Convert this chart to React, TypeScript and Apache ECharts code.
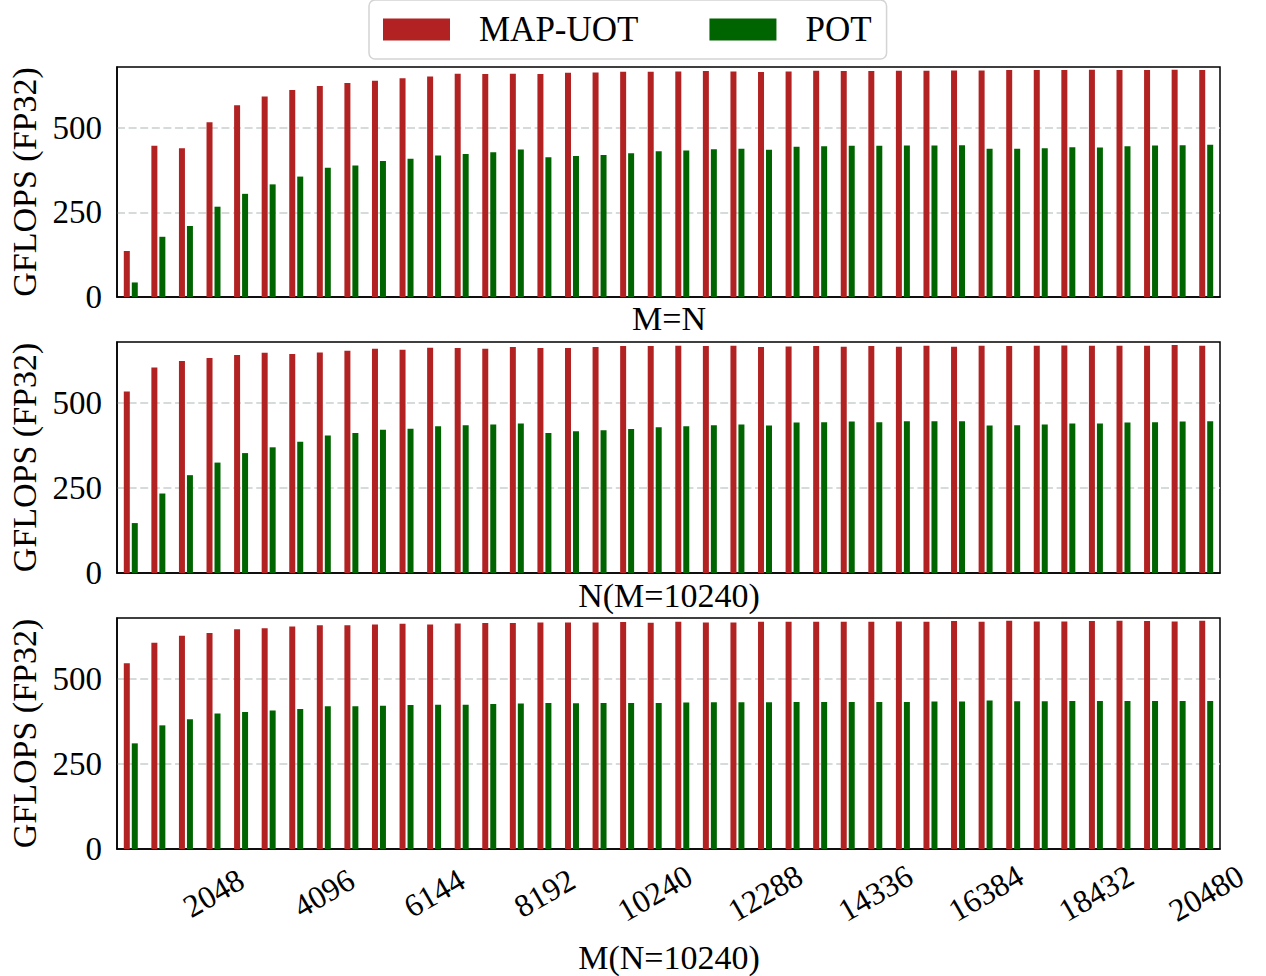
import React, { useEffect, useRef } from "react";
import * as echarts from "echarts";

const categories = [
  "512", "1024", "1536", "2048", "2560", "3072", "3584", "4096", "4608", "5120",
  "5632", "6144", "6656", "7168", "7680", "8192", "8704", "9216", "9728", "10240",
  "10752", "11264", "11776", "12288", "12800", "13312", "13824", "14336", "14848", "15360",
  "15872", "16384", "16896", "17408", "17920", "18432", "18944", "19456", "19968", "20480",
];

const yTicks = [0, 250, 500];
const panelTitles = ["M=N", "N(M=10240)", "M(N=10240)"];
const seriesNames = ["MAP-UOT", "POT"];

// Panel 1: M=N
const mnMapUot = [136, 447, 440, 517, 567, 593, 612, 624, 633, 639, 647, 652, 660, 659, 660, 659, 663, 664, 666, 666,
  667, 668, 667, 665, 667, 669, 668, 668, 669, 669, 670, 670, 671, 671, 671, 672, 671, 671, 672, 671];
const mnPot = [43, 178, 210, 267, 305, 333, 356, 382, 389, 402, 409, 418, 423, 428, 436, 413, 417, 420, 425, 431,
  433, 437, 438, 435, 444, 446, 447, 447, 448, 448, 449, 438, 438, 440, 443, 442, 446, 448, 449, 450];

// Panel 2: N (M=10240)
const nMapUot = [534, 605, 624, 633, 642, 648, 645, 649, 654, 660, 657, 663, 662, 660, 665, 662, 662, 665, 668, 668,
  669, 668, 669, 665, 667, 668, 666, 668, 666, 669, 666, 669, 668, 669, 670, 669, 669, 669, 671, 669];
const nPot = [147, 234, 288, 325, 353, 370, 386, 405, 412, 422, 425, 432, 435, 437, 440, 412, 417, 420, 424, 429,
  432, 435, 437, 434, 443, 444, 446, 444, 447, 447, 447, 434, 435, 437, 440, 440, 443, 444, 446, 447];

// Panel 3: M (N=10240)
const mMapUot = [547, 607, 628, 636, 647, 650, 655, 659, 659, 661, 663, 661, 664, 665, 665, 667, 667, 667, 668, 666,
  669, 667, 667, 669, 669, 669, 669, 669, 670, 669, 671, 669, 672, 670, 670, 671, 672, 671, 670, 672];
const mPot = [311, 364, 382, 399, 403, 408, 412, 420, 420, 422, 424, 425, 425, 427, 428, 430, 429, 430, 430, 430,
  431, 432, 432, 432, 433, 433, 433, 433, 433, 434, 434, 437, 435, 435, 436, 436, 436, 436, 436, 436];

const panels = [
  [mnMapUot, mnPot],
  [nMapUot, nPot],
  [mMapUot, mPot],
];

const FONT = "'Liberation Serif', 'Times New Roman', serif";
const RED = "#b22222";
const GREEN = "#006400";

const gridBoxes = [
  { top: 67, height: 230 },
  { top: 342, height: 231 },
  { top: 618, height: 231 },
];
const titleY = [318, 595, 957];

function buildOption() {
  const grid = gridBoxes.map((g) => ({
    left: 117,
    width: 1103,
    top: g.top,
    height: g.height,
    show: true,
    borderColor: "#000",
    borderWidth: 1.5,
    backgroundColor: "transparent",
    containLabel: false,
    outerBoundsMode: "none",
  }));

  const xAxis = gridBoxes.map((_, i) => ({
    type: "category",
    gridIndex: i,
    data: categories,
    axisLine: { show: true, lineStyle: { color: "#000", width: 1.5 } },
    axisTick: { show: false },
    splitLine: { show: false },
    axisLabel:
      i === 2
        ? {
            show: true,
            interval: (idx: number) => (idx + 1) % 4 === 0,
            rotate: 30,
            align: "center",
            verticalAlign: "middle",
            margin: 44,
            fontSize: 32,
            fontFamily: FONT,
            color: "#000",
          }
        : { show: false },
  }));

  const yAxis = gridBoxes.map((_, i) => ({
    type: "value",
    gridIndex: i,
    min: 0,
    max: 680,
    interval: 250,
    name: "GFLOPS (FP32)",
    nameLocation: "middle",
    nameRotate: 90,
    nameGap: 72,
    nameTextStyle: { fontSize: 34, fontFamily: FONT, color: "#000" },
    axisLine: { show: true, lineStyle: { color: "#000", width: 1.5 } },
    axisTick: { show: false },
    axisLabel: {
      fontSize: 33,
      fontFamily: FONT,
      color: "#000",
      margin: 15,
      showMaxLabel: false,
      formatter: (v: number) => (yTicks.includes(v) ? String(v) : ""),
    },
    splitLine: {
      show: true,
      showMinLine: false,
      showMaxLine: false,
      lineStyle: { color: "#c8d0d0", width: 1.6, type: [8, 3.6] },
    },
  }));

  const series: any[] = [];
  panels.forEach((pair, i) => {
    pair.forEach((vals, s) => {
      series.push({
        type: "bar",
        name: seriesNames[s],
        xAxisIndex: i,
        yAxisIndex: i,
        data: vals,
        barWidth: 6,
        barGap: "33%",
        itemStyle: { color: s === 0 ? RED : GREEN },
      });
    });
  });

  return {
    animation: false,
    backgroundColor: "#fff",
    legend: {
      data: seriesNames,
      left: 369,
      top: 0,
      orient: "horizontal",
      icon: "rect",
      itemWidth: 67,
      itemHeight: 22,
      itemGap: 71,
      padding: [12, 15, 12, 14],
      borderColor: "#d4d4d4",
      borderWidth: 1.5,
      borderRadius: 6,
      backgroundColor: "#fff",
      selectedMode: false,
      textStyle: { fontSize: 35, fontFamily: FONT, color: "#000", padding: [0, 0, 0, 24] },
    },
    grid,
    xAxis,
    yAxis,
    series,
    graphic: panelTitles.map((t, i) => ({
      type: "text",
      x: 669,
      y: titleY[i],
      style: {
        text: t,
        fontSize: 34,
        fontFamily: FONT,
        fill: "#000",
        align: "center",
        verticalAlign: "middle",
      },
    })),
  };
}

export default function App() {
  const ref = useRef<HTMLDivElement>(null);
  useEffect(() => {
    document.body.style.margin = "0";
    const chart = echarts.init(ref.current!, null, { renderer: "svg", width: 1266, height: 976 });
    chart.setOption(buildOption() as any);
    return () => chart.dispose();
  }, []);
  return (
    <div
      ref={ref}
      style={{ position: "absolute", left: 0, top: 0, width: 1266, height: 976, background: "#fff" }}
    />
  );
}
